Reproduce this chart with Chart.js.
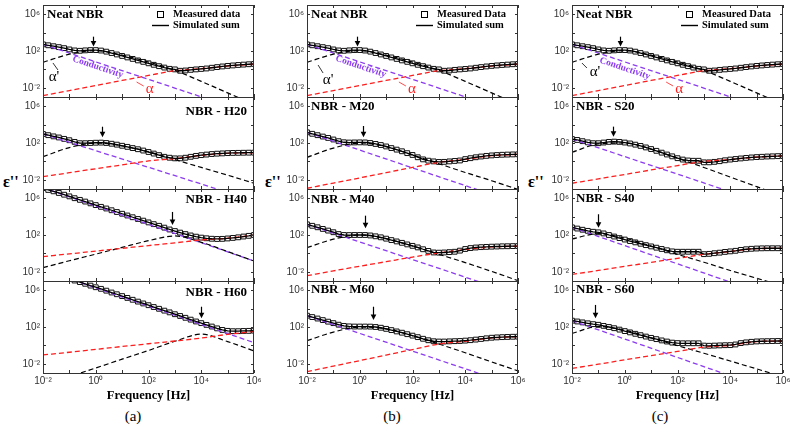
<!DOCTYPE html>
<html>
<head>
<meta charset="utf-8">
<script src="https://cdn.jsdelivr.net/npm/chart.js@4.4.0/dist/chart.umd.min.js"></script>
<style>
body { margin: 0; background: #fff; width: 793px; height: 427px; position: relative; overflow: hidden; font-family: "Liberation Serif", serif; }
canvas { position: absolute; }
.eps { position: absolute; font-weight: bold; font-size: 16px; line-height: 16px; }
.cap { position: absolute; width: 40px; text-align: center; font-size: 15px; line-height: 18px; }
</style>
</head>
<body>
<div class="eps" style="left:3px;top:174px">ε''</div>
<div class="eps" style="left:265px;top:174px">ε''</div>
<div class="eps" style="left:528px;top:174px">ε''</div>
<div class="cap" style="left:113px;top:407px">(a)</div>
<div class="cap" style="left:372px;top:407px">(b)</div>
<div class="cap" style="left:640px;top:407px">(c)</div>
<script>
// frequency grid of the measured points [Hz]
var freq = [0.01, 0.0158, 0.0251, 0.0398, 0.0631, 0.1, 0.158, 0.251, 0.398, 0.631,
  1, 1.58, 2.51, 3.98, 6.31, 10, 15.8, 25.1, 39.8, 63.1,
  100, 158, 251, 398, 631, 1000, 1580, 2510, 3980, 6310,
  1e4, 1.58e4, 2.51e4, 3.98e4, 6.31e4, 1e5, 1.58e5, 2.51e5, 3.98e5, 6.31e5, 1e6];
// frequencies of the fitted components
var compFreq = [0.01, 0.1, 1, 10, 100, 1e3, 1e4, 1e5, 1e6];
var condFreq = [0.01, 1e6];

var xTickVals = [0.01, 1, 100, 1e4, 1e6];
var xTickLabels = ['10⁻²', '10⁰', '10²', '10⁴', '10⁶'];
var yTickVals = [0.01, 100, 1e6];
var yTickLabels = ['10⁻²', '10²', '10⁶'];
var xDecades = [0.01, 0.1, 1, 10, 100, 1e3, 1e4, 1e5, 1e6];
var yDecades = [1e-2, 1, 100, 1e4, 1e6];

// measured eps''
var neatEps = [525, 417, 331, 263, 204, 148, 115, 105, 117, 126, 126, 112, 85, 60, 42, 29, 20, 13.8, 9.5, 6.6,
  4.6, 3.16, 2.24, 1.58, 1.15, 1.0, 0.71, 0.76, 0.89, 1.0, 1.12, 1.26, 1.51, 1.78, 2.09, 2.4, 2.69, 3.02, 3.31, 3.63, 3.89];
var h20Eps = [955, 708, 525, 398, 282, 200, 132, 95, 95, 100, 107, 110, 100, 83, 66, 50, 38, 28, 21, 15.1,
  10.5, 7.1, 4.8, 3.16, 2.51, 2.14, 2.14, 2.51, 3.16, 3.98, 4.79, 5.5, 6.31, 6.92, 7.4, 7.94, 8.32, 8.5, 8.71, 8.91, 8.91];
var h40Eps = [1.26e7, 7.9e6, 5.6e6, 3.7e6, 2.4e6, 1.58e6, 1.0e6, 6.6e5, 4.3e5, 2.75e5, 1.78e5, 1.15e5, 7.6e4, 4.9e4, 3.16e4,
  2.04e4, 1.32e4, 8.5e3, 5.5e3, 3.63e3, 2.34e3, 1.51e3, 1.0e3, 631, 398, 269, 182, 126, 89, 66, 52, 44, 39, 37, 38, 42, 48, 56, 68, 81, 100];
var h60Eps = [null, null, null, null, null, null, 1.12e7, 7.6e6, 5.0e6, 3.16e6, 2.1e6, 1.41e6, 8.9e5, 5.6e5, 3.63e5,
  2.29e5, 1.45e5, 9.1e4, 5.75e4, 3.63e4, 2.34e4, 1.48e4, 9.5e3, 6.0e3, 3.9e3, 2.45e3, 1.58e3, 1.0e3, 631, 398,
  263, 170, 112, 71, 48, 38, 35, 35, 37, 38, 40];
var m20Eps = [1445, 1000, 708, 501, 355, 240, 158, 120, 112, 115, 117, 115, 100, 79, 60, 42, 28, 19, 12.6, 7.9,
  5.0, 2.82, 1.66, 1.2, 1.0, 0.87, 0.89, 1.0, 1.12, 1.26, 1.78, 2.24, 2.82, 3.39, 3.98, 4.47, 4.9, 5.25, 5.5, 5.75, 5.9];
var m40Eps = [1445, 1000, 692, 457, 302, 200, 126, 100, 98, 100, 100, 100, 89, 72, 56, 40, 28, 20, 14.1, 9.5,
  6.6, 4.47, 2.82, 1.86, 1.26, 1.2, 1.26, 1.38, 1.51, 2.0, 3.0, 3.8, 4.37, 4.79, 5.1, 5.4, 5.6, 5.9, 6.0, 6.2, 6.3];
var m60Eps = [1700, 1200, 832, 562, 380, 263, 178, 132, 117, 112, 112, 112, 110, 100, 83, 63, 46, 33, 24, 16.6,
  11.5, 7.9, 5.25, 3.63, 2.82, 2.63, 2.63, 2.75, 2.88, 3.02, 3.31, 3.7, 4.27, 5.0, 5.9, 6.8, 7.4, 7.9, 8.3, 8.7, 8.9];
var s20Eps = [269, 214, 158, 117, 95, 95, 112, 132, 141, 132, 112, 89, 66, 48, 33, 22, 14.1, 8.9, 5.6, 3.55,
  2.24, 1.58, 1.26, 1.17, 1.17, 0.79, 0.79, 0.89, 1.05, 1.32, 1.58, 1.82, 2.09, 2.4, 2.69, 2.95, 3.16, 3.39, 3.55, 3.72, 3.89];
var s40Eps = [676, 501, 372, 282, 224, 195, 148, 100, 68, 46, 32, 22, 15.8, 11.2, 7.9, 5.75, 4.17, 3.02, 2.19, 1.66,
  1.51, 1.51, 1.51, 1.51, 1.51, 0.83, 0.89, 1.05, 1.2, 1.45, 1.66, 1.91, 2.4, 2.82, 3.16, 3.39, 3.55, 3.63, 3.63, 3.63, 3.55];
var s60Eps = [490, 398, 316, 251, 204, 174, 132, 100, 74, 52, 36, 26, 18.2, 12.9, 9.1, 6.6, 4.8, 3.47, 2.63, 2.0,
  1.78, 1.7, 1.7, 1.7, 1.7, 0.95, 0.91, 0.95, 1.0, 1.05, 1.07, 1.26, 1.78, 2.14, 2.45, 2.69, 2.82, 2.88, 2.95, 3.02, 3.02];

// conductivity (2 ends), alpha' and alpha relaxations
var neatCond = [525, 1.3e-5];
var neatAlphaP = [5.9, 45, 112, 35, 6.3, 0.79, 0.05, 0.0028, 1.6e-4];
var neatAlpha = [0.0014, 0.005, 0.018, 0.063, 0.22, 0.71, 1.2, 2.29, 3.7];
var h20Cond = [955, 5.4e-5];
var h20AlphaP = [3.2, 32, 100, 50, 11.2, 1.58, 0.22, 0.032, 0.0042];
var h20Alpha = [0.022, 0.059, 0.16, 0.42, 1.12, 2.0, 4.47, 7.6, 8.9];
var h40Cond = [1.4e7, 0.148];
var h40AlphaP = [0.028, 0.16, 0.83, 4.5, 24, 79, 16, 1.58, 0.148];
var h40Alpha = [0.45, 0.89, 1.78, 3.55, 7.1, 14, 29, 45, 95];
var h60Cond = [1.7e8, 2.0];
var h60AlphaP = [4.5e-5, 4e-4, 0.0035, 0.032, 0.28, 2.8, 16.6, 2.6, 0.25];
var h60Alpha = [0.091, 0.18, 0.37, 0.76, 1.51, 3.0, 6.3, 15.8, 33];
var m20Cond = [1445, 2.75e-5];
var m20AlphaP = [2.75, 28, 100, 40, 5.0, 0.56, 0.063, 0.0079, 8.9e-4];
var m20Alpha = [0.0012, 0.0044, 0.016, 0.06, 0.22, 0.79, 1.66, 4.2, 5.75];
var m40Cond = [1445, 3.2e-5];
var m40AlphaP = [4.2, 35, 100, 40, 6.3, 0.79, 0.1, 0.011, 0.0011];
var m40Alpha = [0.0038, 0.0126, 0.04, 0.126, 0.4, 1.12, 2.63, 5.0, 6.0];
var m60Cond = [1700, 3.4e-5];
var m60AlphaP = [3.2, 28, 100, 63, 11.2, 1.41, 0.16, 0.016, 0.0017];
var m60Alpha = [0.0014, 0.0056, 0.022, 0.089, 0.35, 1.41, 2.82, 6.6, 8.9];
var s20Cond = [269, 6.3e-6];
var s20AlphaP = [9.8, 79, 100, 22, 2.24, 0.22, 0.02, 0.0018, 1.6e-4];
var s20Alpha = [0.0042, 0.0126, 0.038, 0.117, 0.35, 1.0, 1.58, 2.95, 3.89];
var s40Cond = [676, 7.9e-6];
var s40AlphaP = [37, 141, 45, 6.3, 0.79, 0.11, 0.014, 0.002, 2.8e-4];
var s40Alpha = [0.0052, 0.014, 0.039, 0.105, 0.29, 0.79, 1.58, 3.31, 3.55];
var s60Cond = [490, 5e-6];
var s60AlphaP = [20, 112, 45, 6.6, 0.95, 0.14, 0.02, 0.0028, 4e-4];
var s60Alpha = [0.0032, 0.009, 0.027, 0.078, 0.22, 0.66, 1.05, 2.63, 3.02];

var PURPLE = '#8c3cf0';
var RED = '#ff1e1e';

var colLeft = [43, 307, 572];
var rowTop = [5, 97, 189, 281];

var panels = [
  {col: 0, row: 0, name: 'Neat NBR', side: 'left', dy: 10, meas: neatEps, cond: neatCond, ap: neatAlphaP, al: neatAlpha,
    arrow: [0.8, 3600, 300], legend: 'Measured data',
    notes: {cond: [1.2, 1.8], ap: [0.026, 0.15, -1, -14, 4, -7], al: [110, 0.0074]}},
  {col: 0, row: 1, name: 'NBR - H20', side: 'right', dy: 15, meas: h20Eps, cond: h20Cond, ap: h20AlphaP, al: h20Alpha, arrow: [1.66, 5900, 420]},
  {col: 0, row: 2, name: 'NBR - H40', side: 'right', dy: 11, meas: h40Eps, cond: h40Cond, ap: h40AlphaP, al: h40Alpha, arrow: [760, 3.2e4, 1230]},
  {col: 0, row: 3, name: 'NBR - H60', side: 'right', dy: 12, meas: h60Eps, cond: h60Cond, ap: h60AlphaP, al: h60Alpha, arrow: [1e4, 1.6e4, 890]},
  {col: 1, row: 0, name: 'Neat NBR', side: 'left', dy: 10, meas: neatEps, cond: neatCond, ap: neatAlphaP, al: neatAlpha,
    arrow: [0.8, 3600, 300], legend: 'Measured Data',
    notes: {cond: [1.1, 2.0], ap: [0.063, 0.07, -10, -15, -5, -7], al: [95, 0.0074]}},
  {col: 1, row: 1, name: 'NBR - M20', side: 'left', dy: 10, meas: m20Eps, cond: m20Cond, ap: m20AlphaP, al: m20Alpha, arrow: [1.38, 7000, 420]},
  {col: 1, row: 2, name: 'NBR - M40', side: 'left', dy: 11, meas: m40Eps, cond: m40Cond, ap: m40AlphaP, al: m40Alpha, arrow: [1.58, 1.26e4, 540]},
  {col: 1, row: 3, name: 'NBR - M60', side: 'left', dy: 9, meas: m60Eps, cond: m60Cond, ap: m60AlphaP, al: m60Alpha, arrow: [3.1, 1.6e4, 575]},
  {col: 2, row: 0, name: 'Neat NBR', side: 'left', dy: 10, meas: neatEps, cond: neatCond, ap: neatAlphaP, al: neatAlpha,
    arrow: [0.66, 3600, 300], legend: 'Measured Data',
    notes: {cond: [1.0, 1.26], ap: [0.074, 0.52, -13, -9, -8, -4], al: [115, 0.0074]}},
  {col: 2, row: 1, name: 'NBR - S20', side: 'left', dy: 10, meas: s20Eps, cond: s20Cond, ap: s20AlphaP, al: s20Alpha, arrow: [0.35, 6000, 490]},
  {col: 2, row: 2, name: 'NBR - S40', side: 'left', dy: 10, meas: s40Eps, cond: s40Cond, ap: s40AlphaP, al: s40Alpha, arrow: [0.1, 1.8e4, 630]},
  {col: 2, row: 3, name: 'NBR - S60', side: 'left', dy: 9, meas: s60Eps, cond: s60Cond, ap: s60AlphaP, al: s60Alpha, arrow: [0.074, 2.5e4, 870]}
];

function pts(xs, ys) {
  var out = [];
  for (var i = 0; i < xs.length; i++) {
    if (ys[i] !== null) out.push({x: xs[i], y: ys[i]});
  }
  return out;
}

// frame, ticks, labels, arrow, legend and notes of one panel
var deco = {
  id: 'deco',
  afterDraw: function (chart, args, o) {
    var ctx = chart.ctx, a = chart.chartArea;
    var sx = chart.scales.x, sy = chart.scales.y;
    function px(f) { return sx.getPixelForValue(f); }
    function py(v) { return sy.getPixelForValue(v); }
    ctx.save();
    ctx.strokeStyle = '#333';
    ctx.lineWidth = 1;
    ctx.beginPath();
    xDecades.forEach(function (f) {
      var x = Math.round(px(f)) + 0.5;
      ctx.moveTo(x, a.top); ctx.lineTo(x, a.top + 3);
      ctx.moveTo(x, a.bottom); ctx.lineTo(x, a.bottom - 3);
    });
    yDecades.forEach(function (v) {
      var y = Math.round(py(v)) + 0.5;
      ctx.moveTo(a.left, y); ctx.lineTo(a.left + 3, y);
      ctx.moveTo(a.right, y); ctx.lineTo(a.right - 3, y);
    });
    ctx.stroke();
    ctx.strokeRect(Math.round(a.left) + 0.5, Math.round(a.top) + 0.5,
      Math.round(a.right - a.left) - 1, Math.round(a.bottom - a.top));

    ctx.fillStyle = '#000';
    ctx.font = 'bold 13px "Liberation Serif"';
    ctx.textBaseline = 'middle';
    if (o.side === 'right') {
      ctx.textAlign = 'right';
      ctx.fillText(o.name, a.right - 7, a.top + o.dy);
    } else {
      ctx.textAlign = 'left';
      ctx.fillText(o.name, a.left + 4, a.top + o.dy);
    }

    if (o.arrow) {
      var ax = Math.round(px(o.arrow[0])) + 0.5, y1 = py(o.arrow[1]), y2 = py(o.arrow[2]);
      ctx.strokeStyle = '#000';
      ctx.lineWidth = 1.2;
      ctx.beginPath(); ctx.moveTo(ax, y1); ctx.lineTo(ax, y2 - 4); ctx.stroke();
      ctx.beginPath(); ctx.moveTo(ax - 2.8, y2 - 5.5); ctx.lineTo(ax + 2.8, y2 - 5.5); ctx.lineTo(ax, y2);
      ctx.closePath(); ctx.fill();
    }

    if (o.legend) {
      ctx.font = 'bold 10.5px "Liberation Serif"';
      ctx.textAlign = 'left';
      ctx.strokeStyle = '#000';
      ctx.lineWidth = 1;
      ctx.strokeRect(a.right - 96.5, a.top + 6.5, 6, 6);
      ctx.fillText(o.legend, a.right - 81, a.top + 9.5);
      ctx.lineWidth = 1.4;
      ctx.beginPath(); ctx.moveTo(a.right - 102, a.top + 20.5); ctx.lineTo(a.right - 85, a.top + 20.5); ctx.stroke();
      ctx.fillText('Simulated sum', a.right - 81, a.top + 20.5);
    }

    if (o.notes) {
      var n = o.notes;
      ctx.save();
      ctx.translate(px(n.cond[0]), py(n.cond[1]));
      ctx.rotate(18.5 * Math.PI / 180);
      ctx.font = 'bold 9.5px "Liberation Serif"';
      ctx.fillStyle = PURPLE;
      ctx.textAlign = 'center';
      ctx.fillText('Conductivity', 0, 0);
      ctx.restore();

      var lx = px(n.ap[0]), ly = py(n.ap[1]);
      ctx.font = '15px "Liberation Serif"';
      ctx.textAlign = 'center';
      ctx.fillStyle = '#000';
      ctx.fillText("α'", lx, ly);
      ctx.strokeStyle = '#000';
      ctx.lineWidth = 0.8;
      ctx.beginPath(); ctx.moveTo(lx + n.ap[2], ly + n.ap[3]); ctx.lineTo(lx + n.ap[4], ly + n.ap[5]); ctx.stroke();

      var rx = px(n.al[0]), ry = py(n.al[1]);
      ctx.fillStyle = RED;
      ctx.fillText('α', rx, ry);
      ctx.strokeStyle = RED;
      ctx.beginPath(); ctx.moveTo(rx - 13, ry - 7); ctx.lineTo(rx - 6, ry - 3); ctx.stroke();
    }
    ctx.restore();
  }
};

function makePanel(p) {
  var bottom = p.row === 3;
  var cv = document.createElement('canvas');
  cv.width = 261;
  cv.height = bottom ? 128 : 104;
  cv.style.left = (colLeft[p.col] - 40) + 'px';
  cv.style.top = (rowTop[p.row] - 6) + 'px';
  document.body.appendChild(cv);

  var dash = [5, 3];
  new Chart(cv.getContext('2d'), {
    type: 'line',
    data: {
      datasets: [
        {label: 'Simulated sum', data: pts(freq, p.meas), borderColor: '#000', borderWidth: 1.3, pointRadius: 0},
        {label: 'alpha', data: pts(compFreq, p.al), borderColor: RED, borderWidth: 1.3, borderDash: dash,
          pointRadius: 0, cubicInterpolationMode: 'monotone'},
        {label: "alpha'", data: pts(compFreq, p.ap), borderColor: '#000', borderWidth: 1.2, borderDash: dash,
          pointRadius: 0, cubicInterpolationMode: 'monotone'},
        {label: 'Conductivity', data: pts(condFreq, p.cond), borderColor: PURPLE, borderWidth: 1.3, borderDash: dash, pointRadius: 0},
        {label: 'Measured data', data: pts(freq, p.meas), showLine: false, pointStyle: 'rect', pointRadius: 3.4,
          pointBorderWidth: 1, pointBorderColor: '#111', pointBackgroundColor: 'rgba(255,255,255,0.55)'}
      ]
    },
    options: {
      responsive: false,
      animation: false,
      devicePixelRatio: 1,
      layout: {padding: {left: 0, right: 10, top: 6, bottom: bottom ? 0 : 6}},
      plugins: {
        legend: {display: false},
        tooltip: {enabled: false},
        deco: p
      },
      scales: {
        x: {
          type: 'logarithmic', min: 0.01, max: 1e6, display: bottom,
          afterBuildTicks: function (s) { s.ticks = xTickVals.map(function (v) { return {value: v}; }); },
          afterFit: function (s) { s.height = bottom ? 30 : 0; s.paddingLeft = 0; s.paddingRight = 0; },
          grid: {display: false, drawTicks: false},
          border: {display: false},
          ticks: {autoSkip: false, maxRotation: 0, padding: 2, color: '#333',
            font: {family: 'Liberation Sans', size: 10},
            callback: function (v, i) { return xTickLabels[i]; }},
          title: {display: true, text: 'Frequency [Hz]', color: '#000', padding: 0,
            font: {family: 'Liberation Serif', size: 12.5, weight: 'bold'}}
        },
        y: {
          type: 'logarithmic', min: 1e-3, max: 1e7,
          afterBuildTicks: function (s) { s.ticks = yTickVals.map(function (v) { return {value: v}; }); },
          afterFit: function (s) { s.width = 40; s.paddingTop = 0; s.paddingBottom = 0; },
          grid: {display: false, drawTicks: false},
          border: {display: false},
          ticks: {padding: 3, color: '#333', font: {family: 'Liberation Sans', size: 10},
            callback: function (v, i) { return yTickLabels[i]; }}
        }
      }
    },
    plugins: [deco]
  });
}

panels.forEach(makePanel);
</script>
</body>
</html>
